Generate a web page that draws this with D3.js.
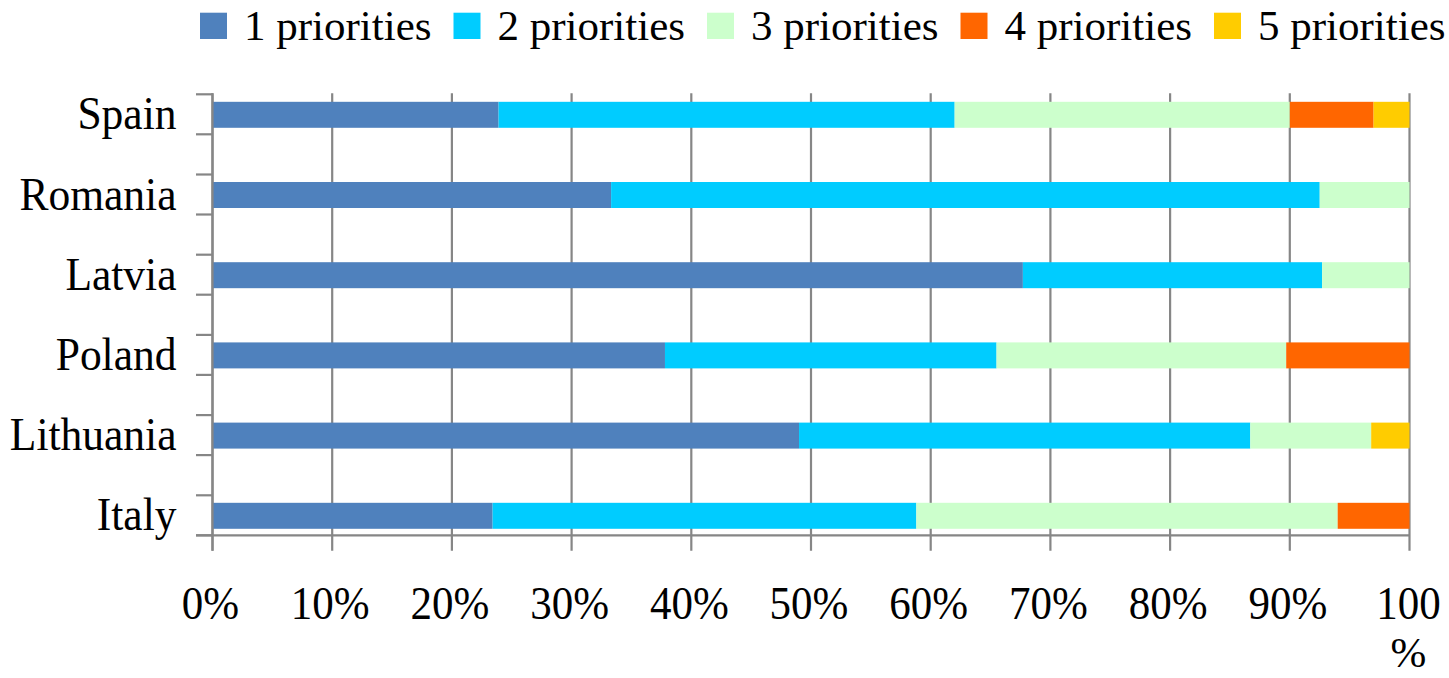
<!DOCTYPE html>
<html>
<head>
<meta charset="utf-8">
<script src="https://cdn.jsdelivr.net/npm/d3@7"></script>
<style>
  html, body { margin: 0; padding: 0; background: #fff; }
  svg { display: block; }
  text { font-family: "Liberation Serif", "Times New Roman", serif; fill: #000; }
</style>
</head>
<body>
<svg id="chart" width="1449" height="678"></svg>
<script>
const countries = ["Spain", "Romania", "Latvia", "Poland", "Lithuania", "Italy"];
const seriesNames = ["1 priorities", "2 priorities", "3 priorities", "4 priorities", "5 priorities"];
const p1 = [23.9, 33.3, 67.7, 37.8, 49.0, 23.4];
const p2 = [38.1, 59.2, 25.0, 27.7, 37.7, 35.4];
const p3 = [28.0, 7.5, 7.3, 24.2, 10.1, 35.2];
const p4 = [7.0, 0, 0, 10.3, 0, 6.0];
const p5 = [3.0, 0, 0, 0, 3.2, 0];
const colors = ["#4F81BD", "#00CCFF", "#CCFFCC", "#FF6600", "#FFCC00"];
const xTicks = [0, 10, 20, 30, 40, 50, 60, 70, 80, 90, 100];
const xTickLabels = ["0%", "10%", "20%", "30%", "40%", "50%", "60%", "70%", "80%", "90%", "100%"];

const seriesValues = [p1, p2, p3, p4, p5];
const rows = countries.map((c, i) => {
  const r = { country: c };
  seriesNames.forEach((s, k) => r[s] = seriesValues[k][i]);
  return r;
});
const stack = d3.stack().keys(seriesNames)(rows);

const svg = d3.select("#chart");
const gridColor = "#868686";

const x = d3.scaleLinear().domain([0, 100]).range([212.5, 1409.5]);
const y = d3.scaleBand().domain(countries).range([74.7, 555.9])
  .paddingInner(0.676).paddingOuter(0.338);

const axisTop = y(countries[0]) + y.bandwidth() / 2 - 20.5;
const axisBottom = y(countries[countries.length - 1]) + y.bandwidth() / 2 + 19.5;
const tickLen = 15.5;

function addText(parent, tx, ty, str, size, anchor, vs) {
  parent.append("text")
    .attr("transform", `translate(${tx},${ty}) scale(1,${vs || 1})`)
    .attr("text-anchor", anchor || "start")
    .attr("font-size", size)
    .text(str);
}

// vertical gridlines (extend below axis as ticks)
svg.append("g").selectAll("line").data(xTicks).join("line")
  .attr("x1", d => x(d)).attr("x2", d => x(d))
  .attr("y1", axisTop - 1).attr("y2", axisBottom + tickLen)
  .attr("stroke", gridColor).attr("stroke-width", 2.2);

// bars
svg.append("g").selectAll("g").data(stack).join("g")
  .attr("fill", (d, i) => colors[i])
  .selectAll("rect").data(d => d).join("rect")
  .attr("x", d => x(d[0]))
  .attr("width", d => Math.max(0, x(d[1]) - x(d[0])))
  .attr("y", d => y(d.data.country))
  .attr("height", y.bandwidth());

// y axis line
svg.append("line")
  .attr("x1", x(0)).attr("x2", x(0))
  .attr("y1", axisTop - 1).attr("y2", axisBottom + tickLen)
  .attr("stroke", gridColor).attr("stroke-width", 2.2);

// y axis ticks: pair around each category
const yTickPos = [];
countries.forEach(c => {
  const cy = y(c) + y.bandwidth() / 2;
  yTickPos.push(cy - 20.5, cy + 19.5);
});
svg.append("g").selectAll("line").data(yTickPos).join("line")
  .attr("x1", x(0) - 16.5).attr("x2", x(0))
  .attr("y1", d => d).attr("y2", d => d)
  .attr("stroke", gridColor).attr("stroke-width", 2.2);

// x axis line
svg.append("line")
  .attr("x1", x(0) - 16.5).attr("x2", x(100))
  .attr("y1", axisBottom).attr("y2", axisBottom)
  .attr("stroke", gridColor).attr("stroke-width", 2.2);

// y labels
const yl = svg.append("g");
countries.forEach(c => {
  addText(yl, 176.5, y(c) + y.bandwidth() / 2 + 14.5, c, 43.5, "end", 1.06);
});

// x labels
const xl = svg.append("g");
xTicks.forEach((t, i) => {
  const lab = xTickLabels[i];
  if (lab === "100%") {
    addText(xl, x(t) - 1, 618.5, "100", 43, "middle", 1.06);
    addText(xl, x(t) - 1, 667, "%", 43, "middle", 1.0);
  } else {
    addText(xl, x(t) - 2, 618.5, lab, 43, "middle", 1.06);
  }
});

// legend
const legend = svg.append("g");
seriesNames.forEach((s, i) => {
  const lx = 200 + i * 253.5;
  legend.append("rect").attr("x", lx).attr("y", 12.7).attr("width", 27).attr("height", 26.3).attr("fill", colors[i]);
  addText(legend, lx + 44, 40, s, 43, "start", 1.0);
});
</script>
</body>
</html>
